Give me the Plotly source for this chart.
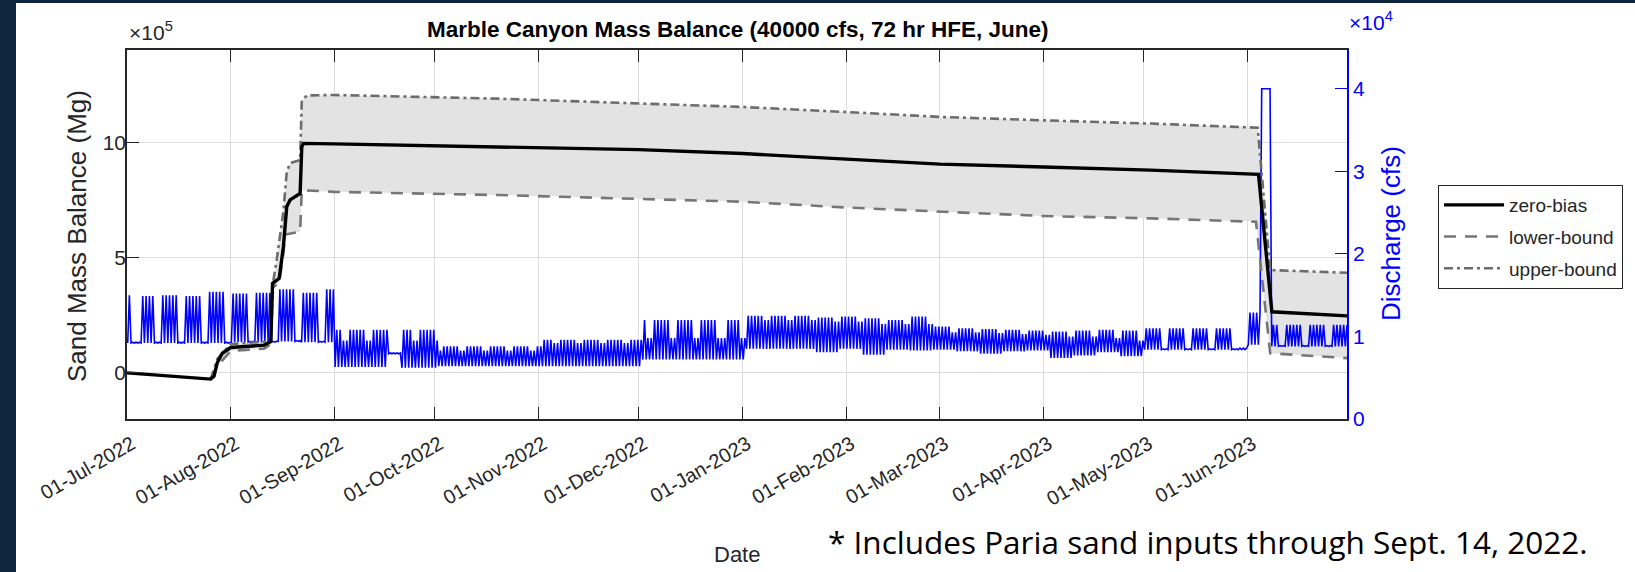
import plotly.graph_objects as go
from datetime import datetime, timedelta

# ---------------- data ----------------
tick_dates = ["2022-07-01", "2022-08-01", "2022-09-01", "2022-10-01", "2022-11-01", "2022-12-01",
              "2023-01-01", "2023-02-01", "2023-03-01", "2023-04-01", "2023-05-01", "2023-06-01"]
tick_labels = ["01-Jul-2022", "01-Aug-2022", "01-Sep-2022", "01-Oct-2022", "01-Nov-2022", "01-Dec-2022",
               "01-Jan-2023", "01-Feb-2023", "01-Mar-2023", "01-Apr-2023", "01-May-2023", "01-Jun-2023"]

# Sand mass balance (Mg)
zero_dates = ["2022-07-01", "2022-07-26", "2022-07-27", "2022-07-28", "2022-07-29 12:00", "2022-08-01",
              "2022-08-11", "2022-08-13", "2022-08-13 12:00", "2022-08-15 12:00", "2022-08-16 18:00",
              "2022-08-17 18:00", "2022-08-18 18:00", "2022-08-21 18:00", "2022-08-22 06:00",
              "2022-08-22 18:00", "2022-09-01", "2022-10-20", "2022-12-01", "2023-01-01", "2023-02-01",
              "2023-03-01", "2023-04-01", "2023-05-03", "2023-06-04 06:00", "2023-06-08 06:00",
              "2023-06-30 17:00"]
zero_bias = [0, -27000, -15000, 45000, 85000, 110000,
             120000, 136000, 388000, 410000, 547000,
             720000, 750000, 778000, 980000,
             995000, 993000, 980000, 968000, 951000, 925000,
             905000, 893000, 879000, 861000, 265000,
             247000]

lower_dates = ["2022-07-26", "2022-07-28", "2022-08-01", "2022-08-11", "2022-08-13", "2022-08-13 12:00",
               "2022-08-15 12:00", "2022-08-16 18:00", "2022-08-17 06:00", "2022-08-21 18:00",
               "2022-08-22 06:00", "2022-09-01", "2022-10-20", "2022-12-01", "2023-01-01", "2023-02-01",
               "2023-03-01", "2023-04-01", "2023-05-03", "2023-06-03 12:00", "2023-06-07 18:00",
               "2023-06-30 17:00"]
lower_bound = [-27000, 30000, 95000, 105000, 125000, 370000,
               390000, 520000, 600000, 612000,
               792000, 785000, 771000, 756000, 742000, 717000,
               699000, 680000, 670000, 655000, 85000,
               64000]

upper_dates = ["2022-07-26", "2022-07-28", "2022-08-01", "2022-08-11", "2022-08-13", "2022-08-13 18:00",
               "2022-08-14 18:00", "2022-08-16 18:00", "2022-08-17 18:00", "2022-08-18 18:00",
               "2022-08-21 18:00", "2022-08-22 06:00", "2022-08-23 18:00", "2022-09-01", "2022-10-20",
               "2022-12-01", "2023-01-01", "2023-02-01", "2023-03-01", "2023-04-01", "2023-05-03",
               "2023-06-04 00:00", "2023-06-07 18:00", "2023-06-30 17:00"]
upper_bound = [-27000, 60000, 125000, 135000, 150000, 400000,
               490000, 700000, 870000, 910000,
               922000, 1180000, 1203000, 1205000, 1189000,
               1170000, 1153000, 1131000, 1110000, 1095000, 1081000,
               1063000, 446000, 434000]

# Discharge (cfs): periods with daily low, weekday daily peak, weekend daily peak
q_period_start = ["2022-07-01", "2022-07-04", "2022-07-05", "2022-07-11", "2022-07-18", "2022-07-25",
                  "2022-08-01", "2022-08-08", "2022-08-15", "2022-08-22", "2022-08-29", "2022-09-01",
                  "2022-09-17", "2022-09-21", "2022-10-02", "2022-11-02", "2022-12-02", "2022-12-24",
                  "2022-12-27", "2023-01-02", "2023-01-23", "2023-01-30", "2023-02-06", "2023-02-13",
                  "2023-02-20", "2023-02-27", "2023-03-06", "2023-03-13", "2023-03-20", "2023-03-27",
                  "2023-04-03", "2023-04-10", "2023-04-17", "2023-04-24", "2023-05-01", "2023-05-27",
                  "2023-06-01", "2023-06-05", "2023-06-08"]
q_low = [9200, 9200, 9200, 9200, 9200, 9200,
         9300, 9300, 9400, 9300, 9300, 6300,
         7900, 6200, 6400, 6400, 7200, 7200,
         7200, 8500, 8100, 8500, 7800, 8400,
         8300, 8400, 8200, 7900, 8200, 8300,
         7400, 7700, 8100, 7600, 8400, 8400,
         9000, 40000, 8800]
q_peak_weekday = [15000, 9300, 14900, 15000, 14900, 15400,
                  15200, 15300, 15700, 15300, 15700, 10800,
                  8000, 10800, 8800, 9600, 12000, 9800,
                  12000, 12500, 12300, 12400, 12200, 12000,
                  12400, 11200, 11000, 10900, 10800, 10700,
                  10600, 10700, 10800, 10700, 11000, 8600,
                  12900, 40000, 11400]
q_peak_weekend = [9300, 9300, 9300, 9300, 9300, 9300,
                  9400, 9400, 9500, 9400, 9400, 9500,
                  8000, 9500, 8300, 9200, 9800, 9800,
                  9800, 12000, 11800, 11800, 11500, 11500,
                  11500, 10500, 10500, 10400, 10300, 10200,
                  10000, 10000, 9800, 9500, 8500, 8500,
                  12900, 40000, 8900]

# ---------------- build discharge series (one low and one peak per day) ----------------
starts = [datetime.fromisoformat(s) for s in q_period_start]
q_x, q_y = [], []
day = datetime(2022, 7, 1)
last = datetime(2023, 6, 30)
while day <= last:
    k = max(i for i, s in enumerate(starts) if s <= day)
    peak = q_peak_weekend[k] if day.weekday() >= 5 else q_peak_weekday[k]
    q_x += [day + timedelta(hours=5), day + timedelta(hours=17)]
    q_y += [q_low[k], peak]
    day += timedelta(days=1)

# ---------------- figure ----------------
W, H = 1635, 572
L, R, T, B = 127, 288, 50, 153
PW, PH = W - L - R, H - T - B


def px(x):
    return (x - L) / PW


def py(y):
    return 1 - (y - T) / PH


AX = "#262626"
BLUE = "#0000ff"
FONT = "Liberation Sans, Arial, sans-serif"

fig = go.Figure()

# shaded band between bounds (primary mass axis)
fig.add_trace(go.Scatter(
    x=upper_dates + lower_dates[::-1], y=upper_bound + lower_bound[::-1],
    fill="toself", fillcolor="#e3e3e3", line=dict(width=0), mode="lines",
    showlegend=False, hoverinfo="skip", yaxis="y"))

# discharge (right axis)
fig.add_trace(go.Scatter(x=q_x, y=q_y, mode="lines", line=dict(color=BLUE, width=1.6),
                         showlegend=False, yaxis="y2", name="Discharge"))

# mass balance lines (overlay mass axis, drawn on top)
fig.add_trace(go.Scatter(x=lower_dates, y=lower_bound, mode="lines", name="lower-bound",
                         line=dict(color="#767676", width=2.6, dash="12px,9px"),
                         yaxis="y3", legendrank=2, legendgroup="b"))
fig.add_trace(go.Scatter(x=upper_dates, y=upper_bound, mode="lines", name="upper-bound",
                         line=dict(color="#6c6c6c", width=2.6, dash="9px,4px,3px,4px"),
                         yaxis="y3", legendrank=3, legendgroup="c"))
fig.add_trace(go.Scatter(x=zero_dates, y=zero_bias, mode="lines", name="zero-bias",
                         line=dict(color="#000000", width=3.4),
                         yaxis="y3", legendrank=1, legendgroup="a"))

mass_range = [-200000, 1400000]

fig.update_layout(
    width=W, height=H,
    margin=dict(l=L, r=R, t=T, b=B, autoexpand=False),
    paper_bgcolor="#10263f", plot_bgcolor="white",
    font=dict(family=FONT, color=AX, size=21),
    showlegend=True,
    legend=dict(x=px(1438), y=py(185), xanchor="left", yanchor="top",
                bgcolor="white", bordercolor=AX, borderwidth=1,
                font=dict(family=FONT, size=19, color=AX), itemwidth=60,
                traceorder="grouped", tracegroupgap=4),
    xaxis=dict(type="date", range=["2022-07-01", "2023-06-30 17:00"],
               tickvals=tick_dates, ticktext=tick_labels, tickangle=-30,
               tickfont=dict(size=20, color=AX), ticklabelshift=5, ticklabelstandoff=4,
               ticks="inside", ticklen=12, tickcolor=AX, tickwidth=1.2,
               showline=True, linecolor=AX, linewidth=1.5, mirror="ticks",
               showgrid=True, gridcolor="#dcdcdc", gridwidth=1,
               zeroline=False, automargin=False, anchor="y"),
    yaxis=dict(range=mass_range, tickvals=[0, 500000, 1000000], ticktext=["0", "5", "10"],
               side="left", tickfont=dict(size=21, color=AX), ticklabelstandoff=-5,
               ticks="inside", ticklen=12, tickcolor=AX, tickwidth=1.2,
               showline=True, linecolor=AX, linewidth=1.5,
               showgrid=True, gridcolor="#dcdcdc", gridwidth=1,
               zeroline=False, automargin=False),
    yaxis2=dict(range=[0, 44700], tickvals=[0, 10000, 20000, 30000, 40000],
                ticktext=["0", "1", "2", "3", "4"], overlaying="y", side="right", anchor="x",
                tickfont=dict(size=21, color=BLUE),
                ticks="inside", ticklen=12, tickcolor=BLUE, tickwidth=1.2,
                showline=True, linecolor=BLUE, linewidth=1.5,
                showgrid=False, zeroline=False, automargin=False),
    yaxis3=dict(overlaying="y", matches="y", visible=False, showgrid=False, zeroline=False),
    shapes=[dict(type="rect", xref="paper", yref="paper",
                 x0=px(16), x1=px(1640), y0=py(580), y1=py(3),
                 fillcolor="white", line=dict(width=0), layer="below")],
    annotations=[
        dict(text="<b>Marble Canyon Mass Balance (40000 cfs, 72 hr HFE, June)</b>",
             x=px(738), y=py(30), xref="paper", yref="paper", showarrow=False,
             xanchor="center", yanchor="middle", font=dict(size=22.5, color="#000000", family=FONT)),
        dict(text="×10<sup>5</sup>", x=px(127), y=py(31), xref="paper", yref="paper", showarrow=False,
             xanchor="left", yanchor="middle", font=dict(size=21, color=AX, family=FONT)),
        dict(text="×10<sup>4</sup>", x=px(1347), y=py(21), xref="paper", yref="paper", showarrow=False,
             xanchor="left", yanchor="middle", font=dict(size=21, color=BLUE, family=FONT)),
        dict(text="Sand Mass Balance (Mg)", x=px(77), y=py(236), xref="paper", yref="paper",
             showarrow=False, textangle=-90, xanchor="center", yanchor="middle",
             font=dict(size=26, color=AX, family=FONT)),
        dict(text="Discharge (cfs)", x=px(1391), y=py(234), xref="paper", yref="paper",
             showarrow=False, textangle=-90, xanchor="center", yanchor="middle",
             font=dict(size=26, color=BLUE, family=FONT)),
        dict(text="Date", x=px(737), y=py(554), xref="paper", yref="paper", showarrow=False,
             xanchor="center", yanchor="middle", font=dict(size=22, color=AX, family=FONT)),
        dict(text="* Includes Paria sand inputs through Sept. 14, 2022.", x=px(826), y=py(541),
             xref="paper", yref="paper", showarrow=False, xanchor="left", yanchor="middle",
             font=dict(size=31.5, color="#000000", family="Open Sans, Noto Sans, sans-serif")),
    ],
)

fig.write_html("out.html")
